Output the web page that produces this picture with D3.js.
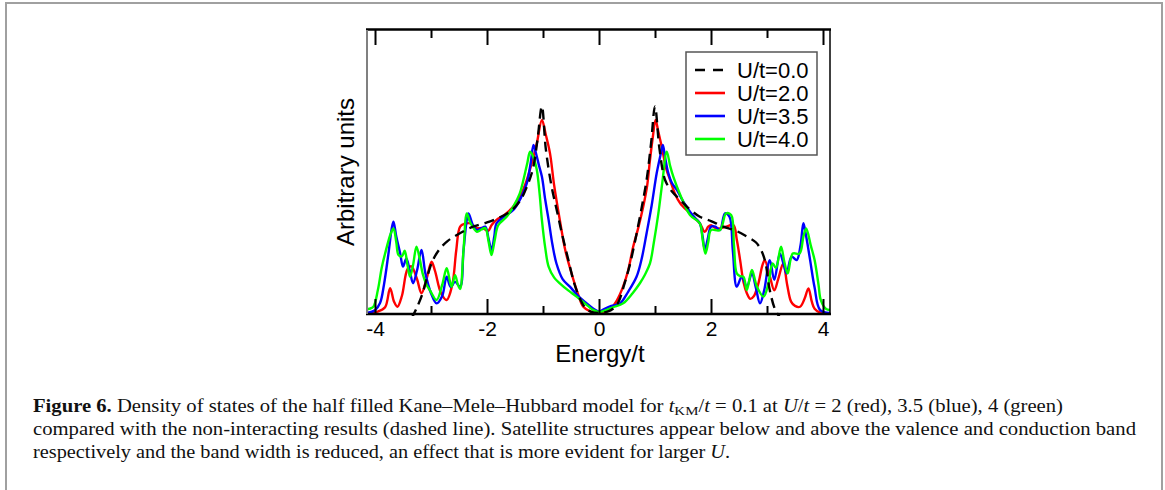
<!DOCTYPE html>
<html>
<head>
<meta charset="utf-8">
<script src="https://cdn.jsdelivr.net/npm/d3@7"></script>
<style>
  body { margin: 0; background: #fff; }
  svg { display: block; }
</style>
</head>
<body>
<div id="chart"></div>
<script>
// density of states: [energy/t, arbitrary units]
var dosU00 = [
  [-3.35,-2],[-3.25,2],[-3.15,7],[-3.05,14],[-2.97,18.5],[-2.85,22.5],[-2.7,25.5],[-2.5,28],[-2.25,30.5],
  [-2.0,32],[-1.75,34],[-1.55,36.5],[-1.4,40],[-1.28,45],[-1.18,51],[-1.1,61],[-1.02,73],[-0.95,58],
  [-0.85,45],[-0.75,36],[-0.65,27],[-0.55,19],[-0.45,11],[-0.35,5.5],[-0.25,2],[-0.15,0.5],[0,0],
  [0.15,0.5],[0.25,1.5],[0.35,4],[0.45,10],[0.55,17],[0.65,26],[0.75,36],[0.85,47],[0.93,60],[1.0,73],
  [1.08,58],[1.18,47],[1.3,43],[1.45,40],[1.6,37],[1.8,34],[2.0,32.5],[2.22,30.5],[2.45,29],[2.64,27],
  [2.8,25],[2.9,22],[2.97,18],[3.05,8],[3.15,1],[3.25,-2]
];
var dosU20 = [
  [-4.15,0],[-3.95,0.5],[-3.82,2],[-3.73,8.8],[-3.66,4],[-3.6,2.2],[-3.52,6],[-3.42,15.5],[-3.35,16.5],
  [-3.25,12],[-3.17,7],[-3.08,12],[-2.99,18.1],[-2.93,15],[-2.82,7],[-2.72,4.6],[-2.62,10],[-2.55,22],
  [-2.48,30.5],[-2.4,31.5],[-2.3,31.7],[-2.18,30],[-2.08,30],[-1.98,29],[-1.92,31],[-1.83,32.9],[-1.7,34.5],
  [-1.53,37.6],[-1.4,41.5],[-1.29,47],[-1.2,53],[-1.11,60],[-1.02,68.2],[-0.95,63],[-0.875,56.4],[-0.8,45],
  [-0.7,32.9],[-0.6,22],[-0.49,14],[-0.38,7],[-0.28,2.2],[-0.15,0.5],[0,0],
  [0.1,0.3],[0.2,1.4],[0.32,4.5],[0.43,9.3],[0.52,15],[0.61,23.4],[0.7,30],[0.79,37.6],[0.86,45],[0.91,54],
  [0.96,62],[1.01,68.2],[1.06,64],[1.12,58.8],[1.2,51],[1.27,47],[1.36,42],[1.45,38.8],[1.625,35.2],[1.8,31.7],
  [1.89,28.7],[1.95,30.5],[2.0,31],[2.08,30],[2.16,29.9],[2.27,30.5],[2.4,31.1],[2.46,26],[2.52,18.7],[2.58,11],
  [2.64,7],[2.7,5],[2.76,5.8],[2.84,10],[2.92,17],[2.96,18.7],[3.05,13],[3.13,8],[3.2,12],[3.29,17.5],[3.36,10],
  [3.43,4],[3.5,2.5],[3.59,2.2],[3.67,5],[3.74,8.7],[3.8,4],[3.85,1.5],[3.96,0],[4.15,0]
];
var dosU35 = [
  [-4.15,0],[-4.0,1],[-3.91,3.5],[-3.84,10],[-3.76,21],[-3.7,30],[-3.67,32.3],[-3.62,27],[-3.55,21],[-3.5,16.4],
  [-3.44,19.3],[-3.38,15],[-3.32,10.5],[-3.25,15],[-3.17,22.3],[-3.1,14],[-3.0,7],[-2.9,3.4],[-2.8,6],[-2.72,12.8],
  [-2.65,9.2],[-2.57,11],[-2.48,9.3],[-2.42,22],[-2.36,33],[-2.33,35.2],[-2.25,31],[-2.18,29.3],[-2.1,30],
  [-2.03,30.5],[-1.97,26],[-1.92,22.3],[-1.87,27],[-1.83,31.7],[-1.7,34],[-1.53,36.4],[-1.4,40.5],[-1.29,45.8],
  [-1.22,53],[-1.17,59.4],[-1.12,56],[-1.07,52],[-1.02,48.2],[-0.96,40],[-0.9,32.9],[-0.83,24],[-0.76,17.5],
  [-0.65,12],[-0.52,9.3],[-0.37,6],[-0.22,3.4],[-0.1,1.5],[0,0.5],
  [0.1,1.5],[0.22,2.5],[0.375,3.4],[0.52,7.5],[0.67,12.8],[0.76,19],[0.85,28.2],[0.94,38],[1.03,49.4],[1.1,56],
  [1.14,59.4],[1.18,55],[1.23,50],[1.3,46],[1.39,43.5],[1.5,39.5],[1.625,35.8],[1.72,33.5],[1.8,31.7],[1.85,27],
  [1.89,22.3],[1.94,26],[2.0,30.5],[2.08,30.5],[2.16,29.3],[2.25,35.2],[2.33,34],[2.39,22],[2.46,9.3],[2.55,12.8],
  [2.64,9.3],[2.73,14],[2.8,9],[2.875,3.4],[2.95,8],[3.05,18.7],[3.13,11.7],[3.23,21],[3.3,17],[3.35,14],
  [3.44,19.9],[3.53,18.7],[3.6,24],[3.65,31.7],[3.7,27],[3.77,18.7],[3.85,9],[3.95,1],[4.15,0]
];
var dosU40 = [
  [-4.27,1],[-4.1,1.5],[-4.03,2.2],[-3.95,8],[-3.88,16],[-3.82,21],[-3.72,28],[-3.67,29.9],[-3.62,25],[-3.58,20.5],
  [-3.52,20],[-3.47,22],[-3.42,17],[-3.375,12.8],[-3.32,17],[-3.26,23.4],[-3.2,19],[-3.15,14],[-3.08,10],[-3.02,8.1],
  [-2.9,4.6],[-2.8,10],[-2.72,15.8],[-2.66,11],[-2.63,9.3],[-2.57,13.4],[-2.52,10],[-2.48,8.5],[-2.42,22],[-2.36,35.2],
  [-2.3,32],[-2.18,28.7],[-2.1,29.5],[-2.03,30],[-1.97,25],[-1.92,20.5],[-1.86,26],[-1.8,31],[-1.65,34],[-1.53,37.6],
  [-1.42,42],[-1.35,47],[-1.28,53],[-1.23,57],[-1.17,55],[-1.11,50.5],[-1.06,42],[-1.02,32.9],[-0.96,23],[-0.9,16.4],
  [-0.8,12.5],[-0.7,10.5],[-0.55,8],[-0.4,5.8],[-0.2,2.5],[-0.1,1],[0,0.3],
  [0.1,0.8],[0.25,2],[0.43,3.4],[0.6,7],[0.73,10.5],[0.82,13.5],[0.91,17.5],[0.98,25],[1.06,35.2],[1.13,46],[1.21,57],
  [1.27,52],[1.33,48],[1.45,41.8],[1.625,34.6],[1.8,31.7],[1.85,26],[1.9,21],[1.95,25],[2.0,29.3],[2.16,29.3],
  [2.27,35.2],[2.36,34.6],[2.41,24],[2.46,14],[2.52,13],[2.58,12.8],[2.64,8.1],[2.73,15.2],[2.82,9.3],[2.94,5.8],
  [3.02,10],[3.1,17.5],[3.16,16],[3.25,23.4],[3.31,18],[3.37,14],[3.46,21],[3.58,21],[3.65,27],[3.7,29.9],[3.78,24],
  [3.85,18.7],[3.92,10],[3.96,4.6],[4.05,1.5],[4.2,1]
];

var seriesNames = ["U/t=0.0", "U/t=2.0", "U/t=3.5", "U/t=4.0"];
var seriesColors = ["#000000", "#ff0000", "#0000ff", "#00ff00"];
var majorTicks = [-4, -2, 0, 2, 4];
var minorTicks = [-3, -1, 1, 3];

var W = 1165, H = 490;
var svg = d3.select("#chart").append("svg")
    .attr("width", W)
    .attr("height", H);

// outer page frame
svg.append("rect")
    .attr("x", 6).attr("y", 3)
    .attr("width", 1156).attr("height", 600)
    .attr("fill", "none")
    .attr("stroke", "#a0a0a0")
    .attr("stroke-width", 2);

var plot = { left: 367, right: 830, top: 30, bottom: 313 };

var x = d3.scaleLinear()
    .domain([-4.143, 4.125])
    .range([plot.left, plot.right]);

var y = d3.scaleLinear()
    .domain([0, 100])
    .range([plot.bottom, plot.top]);

svg.append("clipPath").attr("id", "clip")
    .append("rect")
    .attr("x", plot.left).attr("y", plot.top)
    .attr("width", plot.right - plot.left)
    .attr("height", plot.bottom - plot.top + 3);

var line = d3.line()
    .x(function(d) { return x(d[0]); })
    .y(function(d) { return y(d[1]); })
    .curve(d3.curveCatmullRom.alpha(0.5));

var allSeries = [dosU00, dosU20, dosU35, dosU40];
var g = svg.append("g").attr("clip-path", "url(#clip)");

// draw coloured lines first, dashed U=0 on top
[1, 2, 3, 0].forEach(function(i) {
    g.append("path")
        .datum(allSeries[i])
        .attr("d", line)
        .attr("fill", "none")
        .attr("stroke", seriesColors[i])
        .attr("stroke-width", 2.4)
        .attr("stroke-dasharray", i === 0 ? "10,6" : null);
});

// axes: ticks point inward on top and bottom
var fontSans = "'Liberation Sans', Arial, sans-serif";

svg.append("g")
    .attr("transform", "translate(0," + (plot.bottom + 1) + ")")
    .call(d3.axisBottom(x).tickValues(majorTicks).tickSize(-15).tickPadding(7)
        .tickFormat(function(d) { return d < 0 ? "-" + Math.abs(d) : d; }))
    .call(function(a) {
        a.select(".domain").remove();
        a.selectAll("line").attr("stroke", "#000").attr("stroke-width", 2);
        a.selectAll("text").style("font-family", fontSans).style("font-size", "21px").attr("fill", "#000");
    });

svg.append("g")
    .attr("transform", "translate(0," + (plot.bottom + 1) + ")")
    .call(d3.axisBottom(x).tickValues(minorTicks).tickSize(-8).tickFormat(""))
    .call(function(a) {
        a.select(".domain").remove();
        a.selectAll("line").attr("stroke", "#000").attr("stroke-width", 2);
    });

svg.append("g")
    .attr("transform", "translate(0," + plot.top + ")")
    .call(d3.axisTop(x).tickValues(majorTicks).tickSize(-15).tickFormat(""))
    .call(function(a) {
        a.select(".domain").remove();
        a.selectAll("line").attr("stroke", "#000").attr("stroke-width", 2);
    });

svg.append("g")
    .attr("transform", "translate(0," + plot.top + ")")
    .call(d3.axisTop(x).tickValues(minorTicks).tickSize(-8).tickFormat(""))
    .call(function(a) {
        a.select(".domain").remove();
        a.selectAll("line").attr("stroke", "#000").attr("stroke-width", 2);
    });

// frame of the plot
svg.append("line")
    .attr("x1", plot.left - 1).attr("x2", plot.right + 1)
    .attr("y1", plot.top - 0.5).attr("y2", plot.top - 0.5)
    .attr("stroke", "#000").attr("stroke-width", 2.5);
svg.append("line")
    .attr("x1", plot.left - 1).attr("x2", plot.right + 1)
    .attr("y1", plot.bottom + 1).attr("y2", plot.bottom + 1)
    .attr("stroke", "#000").attr("stroke-width", 2.5);
svg.append("line")
    .attr("x1", plot.right).attr("x2", plot.right)
    .attr("y1", plot.top).attr("y2", plot.bottom + 1)
    .attr("stroke", "#000").attr("stroke-width", 1.5);
svg.append("line")
    .attr("x1", plot.left).attr("x2", plot.left)
    .attr("y1", plot.top).attr("y2", plot.bottom + 1)
    .attr("stroke", "#808080").attr("stroke-width", 2);

// axis titles
svg.append("text")
    .attr("x", 600)
    .attr("y", 362)
    .attr("text-anchor", "middle")
    .style("font-family", fontSans)
    .style("font-size", "24px")
    .text("Energy/t");

svg.append("text")
    .attr("transform", "translate(354,172) rotate(-90)")
    .attr("text-anchor", "middle")
    .style("font-family", fontSans)
    .style("font-size", "24px")
    .text("Arbitrary units");

// legend
var legend = svg.append("g");
legend.append("rect")
    .attr("x", 686).attr("y", 52)
    .attr("width", 131).attr("height", 103)
    .attr("fill", "#fff")
    .attr("stroke", "#555")
    .attr("stroke-width", 1.5);

seriesNames.forEach(function(name, i) {
    var ly = 70 + i * 23;
    legend.append("line")
        .attr("x1", 695).attr("x2", 725)
        .attr("y1", ly).attr("y2", ly)
        .attr("stroke", seriesColors[i])
        .attr("stroke-width", 2.6)
        .attr("stroke-dasharray", i === 0 ? "10,8" : null);
    legend.append("text")
        .attr("x", 737).attr("y", ly + 7.5)
        .style("font-family", fontSans)
        .style("font-size", "22px")
        .text(name);
});

// caption
var fontSerif = "'Liberation Serif', 'Times New Roman', serif";
var cap = svg.append("g")
    .style("font-family", fontSerif)
    .style("font-size", "18px")
    .attr("fill", "#111");

var c1 = cap.append("text").attr("x", 33).attr("y", 412).attr("textLength", 1030).attr("lengthAdjust", "spacingAndGlyphs");
c1.append("tspan").style("font-weight", "bold").text("Figure 6.");
c1.append("tspan").text(" Density of states of the half filled Kane\u2013Mele\u2013Hubbard model for ");
c1.append("tspan").style("font-style", "italic").text("t");
c1.append("tspan").attr("dy", 3).style("font-size", "13px").text("KM");
c1.append("tspan").attr("dy", -3).text("/");
c1.append("tspan").style("font-style", "italic").text("t");
c1.append("tspan").text(" = 0.1 at ");
c1.append("tspan").style("font-style", "italic").text("U");
c1.append("tspan").text("/");
c1.append("tspan").style("font-style", "italic").text("t");
c1.append("tspan").text(" = 2 (red), 3.5 (blue), 4 (green)");

cap.append("text").attr("x", 33).attr("y", 435)
    .attr("textLength", 1103).attr("lengthAdjust", "spacingAndGlyphs")
    .text("compared with the non-interacting results (dashed line). Satellite structures appear below and above the valence and conduction band");

var c3 = cap.append("text").attr("x", 33).attr("y", 458).attr("textLength", 697).attr("lengthAdjust", "spacingAndGlyphs");
c3.append("tspan").text("respectively and the band width is reduced, an effect that is more evident for larger ");
c3.append("tspan").style("font-style", "italic").text("U");
c3.append("tspan").text(".");
</script>
</body>
</html>
